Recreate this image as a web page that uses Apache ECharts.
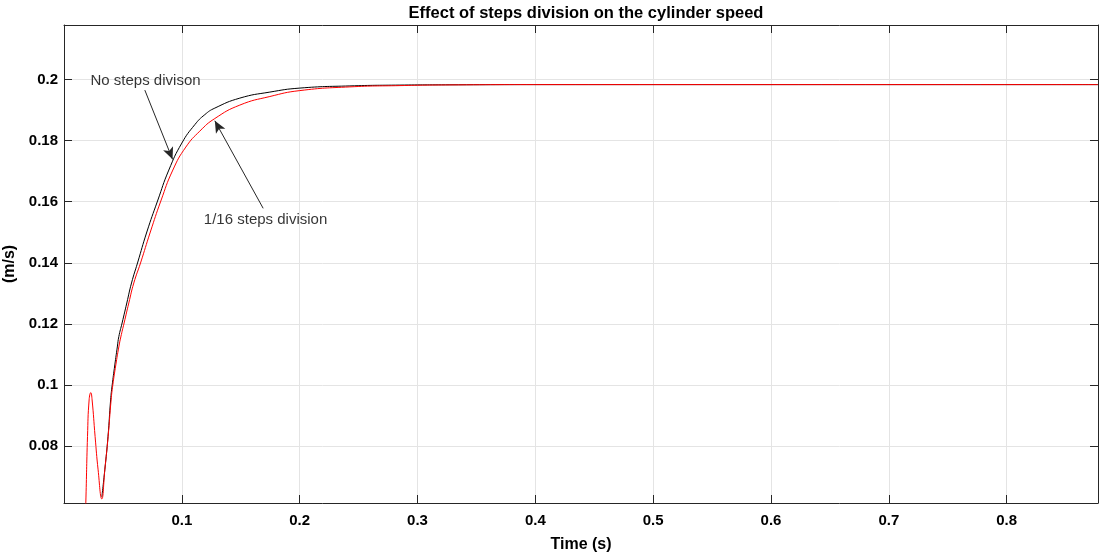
<!DOCTYPE html>
<html>
<head>
<meta charset="utf-8">
<script src="https://cdn.jsdelivr.net/npm/echarts@6/dist/echarts.min.js"></script>
<style>html,body{margin:0;padding:0;background:#fff;}#c{width:1099px;height:559px;}</style>
</head>
<body>
<div id="c"></div>
<script>
// ---- data ----
const timeBlack = [0.03209,0.03463,0.03735,0.03956,0.04083,0.04312,0.04525,0.04652,0.04932,0.05331,0.0573,0.06239,0.07029,0.07937,0.08896,0.1,0.11104,0.11952,0.12801,0.14924,0.1747,0.20017,0.24261,0.28506,0.32751,0.41239,0.8775];
const speedBlack = [0.06331,0.07224,0.08313,0.09513,0.0998,0.10657,0.11246,0.11583,0.12031,0.12685,0.13339,0.13993,0.15007,0.1602,0.17034,0.17917,0.1852,0.18848,0.19061,0.19388,0.19585,0.19716,0.19787,0.19814,0.19823,0.1983,0.1983];
const timeRed = [0.01808,0.01851,0.01995,0.02131,0.02275,0.02385,0.0264,0.02895,0.03209,0.03463,0.03744,0.03998,0.04143,0.04397,0.04652,0.04822,0.05102,0.05501,0.05925,0.06494,0.07326,0.08217,0.09236,0.1034,0.11528,0.12801,0.14924,0.1747,0.20017,0.24261,0.28506,0.32751,0.41239,0.8775];
const speedRed = [0.05752,0.06144,0.08313,0.09513,0.09751,0.09513,0.08313,0.07224,0.06275,0.07224,0.08313,0.09513,0.10003,0.10657,0.11246,0.11573,0.12031,0.12685,0.13339,0.13993,0.15007,0.1602,0.17034,0.17786,0.18309,0.1872,0.1916,0.1944,0.19634,0.19755,0.19797,0.1982,0.1983,0.1983];
const xTicks = [0.1,0.2,0.3,0.4,0.5,0.6,0.7,0.8];
const yTicks = [0.08,0.1,0.12,0.14,0.16,0.18,0.2];
const xRange = [0, 0.8775];
const yRange = [0.0614, 0.2178];
const noteTexts = ['No steps divison','1/16 steps division'];
const noteX = [0.0225, 0.11868];
const noteY = [0.19944, 0.15399];
const arrowFromX = [0.06859, 0.16902];
const arrowFromY = [0.1965, 0.15782];
const arrowToX = [0.09211, 0.12801];
const arrowToY = [0.17384, 0.18646];

const zip = (a, b) => a.map((v, i) => [v, b[i]]);
const axisColor = '#262626';
const gridColor = '#e4e4e4';
const font = 'Liberation Sans, Arial, Helvetica, sans-serif';

const chart = echarts.init(document.getElementById('c'), null, {renderer: 'canvas'});
chart.setOption({
  animation: false,
  backgroundColor: '#ffffff',
  title: {
    text: 'Effect of steps division on the cylinder speed',
    left: 581, top: 0, textAlign: 'center',
    textStyle: {fontFamily: font, fontSize: 16.5, fontWeight: 'bold', color: '#000'}
  },
  grid: {left: 64, right: 1, top: 25, bottom: 56, containLabel: false, outerBoundsMode: 'none'},
  xAxis: [{
    type: 'value', min: xRange[0], max: xRange[1], position: 'bottom',
    name: 'Time (s)', nameLocation: 'middle', nameGap: 34,
    nameTextStyle: {fontFamily: font, fontSize: 16, fontWeight: 'bold', color: '#000'},
    axisLine: {show: true, onZero: false, lineStyle: {color: axisColor, width: 1}},
    axisTick: {show: true, inside: true, length: 8, customValues: xTicks, lineStyle: {color: axisColor}},
    axisLabel: {show: true, customValues: xTicks, margin: 10, fontFamily: font, fontSize: 15, fontWeight: 'bold', color: '#000'},
    splitLine: {show: true, lineStyle: {color: gridColor, width: 1}}
  }, {
    type: 'value', min: xRange[0], max: xRange[1], position: 'top',
    axisLine: {show: true, onZero: false, lineStyle: {color: axisColor, width: 1}},
    axisTick: {show: true, inside: true, length: 8, customValues: xTicks, lineStyle: {color: axisColor}},
    axisLabel: {show: false, customValues: xTicks},
    splitLine: {show: false}
  }],
  yAxis: [{
    type: 'value', min: yRange[0], max: yRange[1], position: 'left',
    name: '(m/s)', nameLocation: 'middle', nameGap: 37, nameRotate: 90,
    nameTextStyle: {fontFamily: font, fontSize: 16, fontWeight: 'bold', color: '#000'},
    axisLine: {show: true, onZero: false, lineStyle: {color: axisColor, width: 1}},
    axisTick: {show: true, inside: true, length: 8, customValues: yTicks, lineStyle: {color: axisColor}},
    axisLabel: {show: true, customValues: yTicks, margin: 6, fontFamily: font, fontSize: 15, fontWeight: 'bold', color: '#000'},
    splitLine: {show: true, lineStyle: {color: gridColor, width: 1}}
  }, {
    type: 'value', min: yRange[0], max: yRange[1], position: 'right',
    axisLine: {show: true, onZero: false, lineStyle: {color: axisColor, width: 1}},
    axisTick: {show: true, inside: true, length: 8, customValues: yTicks, lineStyle: {color: axisColor}},
    axisLabel: {show: false, customValues: yTicks},
    splitLine: {show: false}
  }],
  series: [{
    name: 'No steps division', type: 'line', data: zip(timeBlack, speedBlack),
    smooth: 0.5, showSymbol: false, symbol: 'none', clip: true,
    lineStyle: {color: '#000000', width: 1}, z: 3,
    markLine: {
      silent: true, animation: false, symbol: ['none', 'arrow'], symbolSize: [8, 12],
      lineStyle: {color: axisColor, width: 1, type: 'solid'},
      label: {show: false},
      data: arrowFromX.map((x, i) => [{coord: [x, arrowFromY[i]]}, {coord: [arrowToX[i], arrowToY[i]]}])
    }
  }, {
    name: '1/16 steps division', type: 'line', data: zip(timeRed, speedRed),
    smooth: 0.5, showSymbol: false, symbol: 'none', clip: true,
    lineStyle: {color: '#ff0000', width: 1}, z: 4
  }, {
    name: 'notes', type: 'scatter', symbolSize: 0, silent: true, z: 5,
    data: noteTexts.map((t, i) => ({name: t, value: [noteX[i], noteY[i]]})),
    label: {show: true, position: 'right', distance: 0, formatter: p => p.name,
      fontFamily: font, fontSize: 15, color: '#000'}
  }]
});
</script>
</body>
</html>
